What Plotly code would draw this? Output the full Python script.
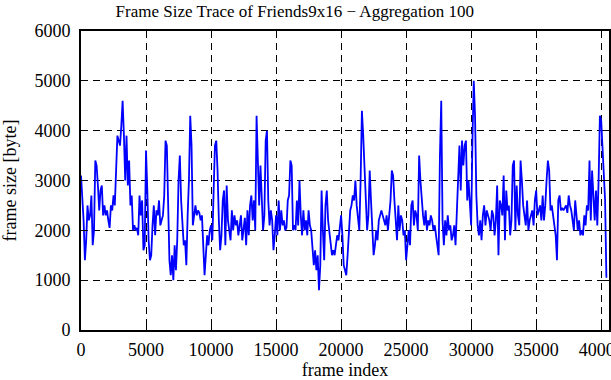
import numpy as np
import plotly.graph_objects as go

# frame size per aggregation block of 100 frames (bytes)
sizes_0_6900 = [
    3100, 2600, 2200, 1400, 1800, 2500, 2200, 2300, 2700, 1700,
    2000, 3400, 3300, 2900, 2400, 2800, 2900, 2300, 2500, 2300,
    2400, 2200, 2050, 2500, 2400, 2700, 2500, 3200, 3900, 3800,
    3700, 4100, 4600, 3900, 3000, 3900, 2900, 3400, 2500, 2700,
    2000, 2100, 2000, 2050, 1900, 2700, 2300, 2600, 1600, 1700,
    3600, 2800, 1800, 1400, 1500, 2100, 2500, 1900, 2400, 2300,
    2600, 2100, 2200, 2300, 2700, 3800, 3700, 2600, 1400, 1100,
]
sizes_7000_13900 = [
    1500, 1000, 1700, 1200, 1800, 3000, 3500, 2600, 2100, 1700,
    1800, 1300, 2300, 3000, 4300, 3700, 2100, 2300, 2500, 2300,
    2400, 2350, 2200, 2300, 1600, 1100, 1500, 1900, 1700, 2000,
    2100, 1800, 2800, 3700, 3800, 3200, 2200, 1600, 1900, 2600,
    2800, 1700, 2900, 2200, 2000, 1800, 2400, 2000, 2300, 2100,
    2200, 1900, 2100, 2300, 1800, 2000, 2250, 1700, 2400, 1900,
    2500, 2700, 2200, 2600, 2000, 4300, 3500, 2500, 3300, 2400,
]
sizes_14000_19900 = [
    2000, 2300, 3800, 4000, 2600, 2100, 2400, 2200, 1600, 1900,
    2300, 1900, 2600, 2000, 2400, 2100, 2200, 2000, 2050, 2600,
    2700, 3400, 3300, 2000, 2100, 2000, 2600, 2100, 3000, 2300,
    1900, 2400, 2000, 2200, 1900, 2400, 2100, 2000, 1700, 1300,
    1600, 1200, 1500, 800, 1300, 2800, 2000, 1400, 2500, 2800,
    2200, 2000, 1700, 1500, 1600, 1500, 1700, 1900, 1800, 2100,
]
sizes_20000_26900 = [
    2300, 1900, 1300, 1200, 1100, 1500, 1900, 2400, 2500, 2700,
    2600, 3000, 2500, 2300, 2000, 3000, 4400, 3900, 3200, 2300,
    2000, 2300, 3200, 2600, 2000, 1500, 1700, 2000, 1800, 2200,
    2300, 2400, 2300, 2200, 2100, 2300, 2000, 2300, 2600, 3200,
    3100, 2600, 2200, 1800, 2500, 2000, 2300, 2200, 1900, 2000,
    1400, 1800, 2000, 1700, 2500, 2600, 2100, 2400, 2300, 2000,
    3500, 3000, 2600, 2300, 2100, 2400, 2000, 2200, 2100, 2300,
]
sizes_27000_33900 = [
    2200, 2000, 2100, 1900, 1600, 1500, 3500, 4600, 2200, 1700,
    2200, 1900, 2300, 2000, 2100, 1800, 1900, 2100, 1700, 2300,
    3200, 3700, 2800, 3800, 3300, 3700, 3800, 2600, 3000, 2500,
    2100, 3800, 5000, 4300, 2700, 2100, 1900, 2200, 1800, 2300,
    2500, 2100, 2400, 2300, 2200, 2000, 2400, 2300, 1900, 2200,
    2900, 1500, 2600, 2500, 2300, 3100, 1800, 2800, 2400, 2500,
    1900, 2200, 3300, 3400, 2000, 2900, 2300, 2100, 3400, 3000,
]
sizes_34000_40400 = [
    2500, 2300, 2100, 2600, 2000, 2200, 2300, 2400, 2100, 2600,
    2800, 2300, 2400, 2500, 2200, 2700, 2200, 2500, 3000, 3400,
    3200, 2400, 2500, 2300, 2100, 1900, 1400, 2600, 2700, 2400,
    2450, 2400, 2450, 2500, 2350, 2700, 2500, 2400, 2200, 2000,
    2600, 2300, 2000, 2200, 1900, 2000, 1900, 2300, 2100, 2500,
    2400, 3400, 2200, 3200, 2600, 2200, 2800, 2100, 3000, 4300,
    4200, 3700, 3000, 2600, 1050,
]

frame_size = (sizes_0_6900 + sizes_7000_13900 + sizes_14000_19900
              + sizes_20000_26900 + sizes_27000_33900 + sizes_34000_40400)
aggregation = 100
frame_index = [i * aggregation for i in range(len(frame_size))]

x_ticks = [0, 5000, 10000, 15000, 20000, 25000, 30000, 35000, 40000]
y_ticks = [0, 1000, 2000, 3000, 4000, 5000, 6000]

font_family = "Liberation Serif, Times New Roman, serif"

fig = go.Figure()
fig.add_trace(go.Scatter(
    x=frame_index, y=frame_size, mode="lines",
    line=dict(color="#0000ff", width=1.8),
    showlegend=False,
))

axis_common = dict(
    showline=True, linecolor="black", linewidth=2, mirror="allticks",
    ticks="inside", ticklen=6, tickwidth=1, tickcolor="black",
    showgrid=True, gridcolor="black", gridwidth=1, griddash="7px,5px",
    zeroline=False, automargin=False,
    tickfont=dict(family=font_family, size=18, color="black"),
)

fig.update_layout(
    width=611, height=380,
    margin=dict(l=81, r=2, t=31, b=50),
    paper_bgcolor="white", plot_bgcolor="white",
    font=dict(family=font_family, size=18, color="black"),
    title=dict(text="Frame Size Trace of Friends9x16 \u2212 Aggregation 100",
               x=0.405, xanchor="center", y=0.972, yanchor="middle",
               xref="paper",
               font=dict(family=font_family, size=17, color="black")),
    xaxis=dict(range=[0, 40600], tickvals=x_ticks,
               ticktext=[str(v) for v in x_ticks],
               ticklabeloverflow="allow", ticklabelstandoff=2,
               title=dict(text="frame index", standoff=7,
                          font=dict(family=font_family, size=18)),
               **axis_common),
    yaxis=dict(range=[0, 6000], tickvals=y_ticks,
               ticktext=[str(v) for v in y_ticks],
               ticklabelstandoff=5,
               title=dict(text="frame size [byte]", standoff=14,
                          font=dict(family=font_family, size=18)),
               **axis_common),
)

fig.write_html("out.html", config={"displayModeBar": False},
               post_script="document.body.style.margin='0px';")
